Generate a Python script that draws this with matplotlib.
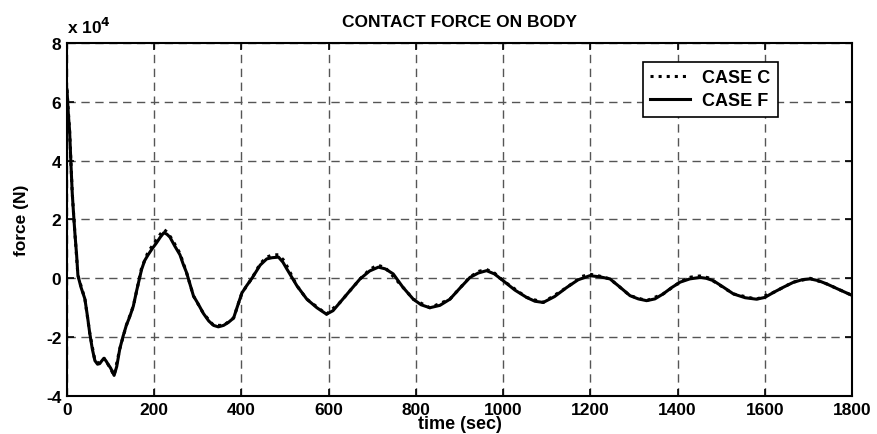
import matplotlib.pyplot as plt
from matplotlib.ticker import MultipleLocator

plt.rcParams['font.family'] = ['Liberation Sans', 'DejaVu Sans']
plt.rcParams['font.weight'] = 'bold'
plt.rcParams['axes.unicode_minus'] = False

# force in units of 1e4 N
time_f = [0, 3, 6, 9, 12, 15, 18, 22, 25, 32, 41, 47, 52, 58, 64, 70, 75, 80, 85, 90,
          94, 100, 108, 114, 121, 128, 136, 144, 152, 160, 171, 178, 186, 195, 205, 214,
          222, 229, 236, 247, 259, 266, 274, 282, 290, 300, 313, 325, 336, 347, 359, 370,
          382, 392, 401, 412, 424, 443, 458, 470, 485, 495, 504, 527, 550, 573, 595, 610,
          626, 650, 672, 694, 714, 730, 748, 770, 794, 812, 832, 855, 878, 900, 924, 943,
          962, 980, 1000, 1027, 1054, 1073, 1092, 1118, 1146, 1172, 1199, 1222, 1245, 1268,
          1291, 1310, 1329, 1348, 1367, 1386, 1406, 1428, 1451, 1466, 1482, 1505, 1528,
          1555, 1581, 1600, 1620, 1643, 1665, 1685, 1704, 1723, 1742, 1770, 1800]
force_f = [6.4, 5.6, 5.0, 3.9, 2.9, 2.2, 1.55, 0.8, 0.1, -0.3, -0.7, -1.3, -1.85, -2.4,
           -2.8, -2.92, -2.9, -2.8, -2.72, -2.82, -2.92, -3.05, -3.3, -3.0, -2.4, -2.0,
           -1.6, -1.3, -0.95, -0.4, 0.3, 0.6, 0.8, 1.0, 1.2, 1.4, 1.55, 1.5, 1.4, 1.1, 0.8,
           0.5, 0.2, -0.2, -0.6, -0.85, -1.2, -1.45, -1.6, -1.65, -1.6, -1.5, -1.35, -0.9,
           -0.5, -0.25, 0.0, 0.45, 0.66, 0.7, 0.72, 0.55, 0.32, -0.25, -0.71, -1.0, -1.22,
           -1.1, -0.82, -0.4, -0.02, 0.25, 0.38, 0.32, 0.15, -0.3, -0.71, -0.9, -1.0, -0.92,
           -0.71, -0.35, 0.03, 0.18, 0.26, 0.15, -0.08, -0.4, -0.65, -0.78, -0.82, -0.62,
           -0.31, -0.05, 0.09, 0.05, -0.02, -0.3, -0.59, -0.7, -0.76, -0.7, -0.53, -0.32,
           -0.13, -0.02, 0.03, 0.0, -0.08, -0.3, -0.53, -0.66, -0.71, -0.65, -0.48, -0.3,
           -0.14, -0.05, -0.02, -0.08, -0.19, -0.38, -0.58]

time_c = [0, 6, 12, 18, 25, 41, 52, 64, 75, 85, 94, 108, 121, 136, 152, 171, 186, 205,
          214, 222, 229, 240, 259, 274, 290, 313, 336, 359, 382, 401, 424, 443, 458, 472,
          485, 498, 527, 550, 595, 626, 672, 694, 712, 730, 770, 794, 832, 878, 924, 945,
          962, 980, 1000, 1054, 1092, 1146, 1180, 1199, 1220, 1245, 1291, 1329, 1367, 1406,
          1430, 1451, 1470, 1528, 1581, 1620, 1665, 1704, 1742, 1800]
force_c = [6.4, 5.0, 2.9, 1.55, 0.1, -0.7, -1.85, -2.8, -2.9, -2.72, -2.92, -3.3, -2.4,
           -1.6, -0.95, 0.35, 0.9, 1.3, 1.5, 1.66, 1.58, 1.35, 0.85, 0.2, -0.6, -1.2, -1.6,
           -1.6, -1.35, -0.5, 0.0, 0.5, 0.72, 0.8, 0.8, 0.6, -0.25, -0.71, -1.22, -0.82,
           -0.02, 0.3, 0.45, 0.36, -0.3, -0.71, -1.0, -0.71, 0.05, 0.24, 0.3, 0.18, -0.08,
           -0.65, -0.82, -0.31, 0.06, 0.14, 0.08, -0.02, -0.59, -0.76, -0.53, -0.12, 0.04,
           0.08, 0.02, -0.53, -0.71, -0.48, -0.13, 0.0, -0.19, -0.58]

fig = plt.figure(figsize=(8.77, 4.35), dpi=100)
ax = fig.add_axes([0.0764, 0.0874, 0.8951, 0.8115])

ax.plot(time_c, force_c, color='black', linestyle=':', linewidth=2.2, label='CASE C', zorder=2)
ax.plot(time_f, force_f, color='black', linestyle='-', linewidth=2.2, label='CASE F', zorder=3)

ax.set_xlim(0, 1800)
ax.set_ylim(-4, 8)
ax.xaxis.set_major_locator(MultipleLocator(200))
ax.yaxis.set_major_locator(MultipleLocator(2))
ax.grid(True, color='#555555', linestyle=(0, (6, 4)), linewidth=1.0)
ax.set_axisbelow(True)
ax.tick_params(direction='in', length=5, width=1.2, top=True, right=True,
               labelsize=12.5, pad=4)
for s in ax.spines.values():
    s.set_linewidth(1.5)

ax.set_title('CONTACT FORCE ON BODY', fontsize=12.5, fontweight='bold', pad=12)
ax.set_xlabel('time (sec)', fontsize=13, fontweight='bold', labelpad=-1)
ax.set_ylabel('force (N)', fontsize=12.5, fontweight='bold', labelpad=12)
ax.text(0.0, 1.02, 'x 10$^{\\mathbf{4}}$', transform=ax.transAxes, fontsize=12.5,
        fontweight='bold', ha='left', va='bottom')

leg = ax.legend(loc='upper right', bbox_to_anchor=(0.917, 0.972), fontsize=13,
                frameon=True, fancybox=False, edgecolor='black', handlelength=2.2,
                borderpad=0.4, labelspacing=0.35, handletextpad=0.7)
leg.get_frame().set_linewidth(1.2)
leg.get_frame().set_alpha(1)
for t in leg.get_texts():
    t.set_fontweight('bold')

fig.savefig('out.png', dpi=100)
